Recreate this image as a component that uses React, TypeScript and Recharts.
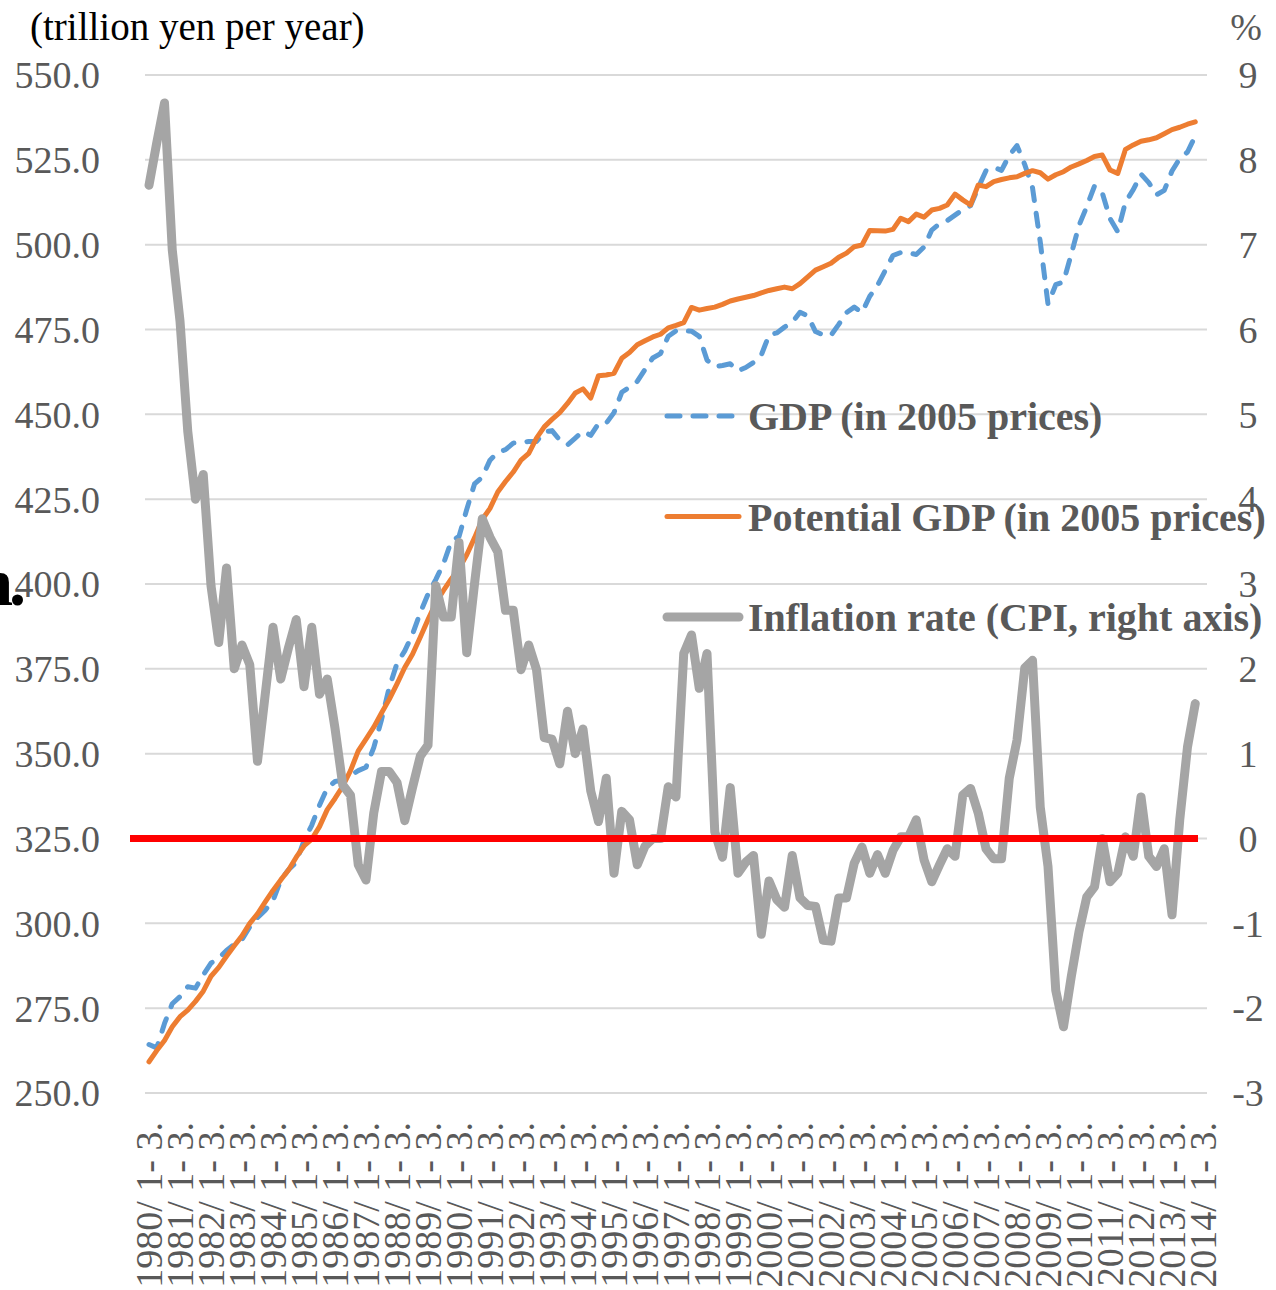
import React from 'react';
import { LineChart, Line, XAxis, YAxis, CartesianGrid, ReferenceLine, Legend } from 'recharts';

const SERIF = "'Liberation Serif', 'Times New Roman', Times, serif";

const years = [
  1980, 1981, 1982, 1983, 1984, 1985, 1986, 1987, 1988, 1989,
  1990, 1991, 1992, 1993, 1994, 1995, 1996, 1997, 1998, 1999,
  2000, 2001, 2002, 2003, 2004, 2005, 2006, 2007, 2008, 2009,
  2010, 2011, 2012, 2013, 2014,
];
const quarterLabels = ['1- 3.', '4- 6.', '7- 9.', '10-12.'];
// 1980/1-3 .. 2014/1-3 (137 quarters)
const categories = years.flatMap((y) => quarterLabels.map((q) => `${y}/ ${q}`)).slice(0, 137);

// GDP (in 2005 prices), trillion yen per year
const gdp = [
  264.3, 263.3, 270.5, 276.3, 278.4, 281.3, 280.9, 284.8, 288.3, 289.7,
  292.0, 293.8, 295.2, 299.0, 301.7, 303.9, 306.7, 312.7, 315.8, 318.0,
  324.4, 328.9, 334.8, 339.9, 341.8, 342.2, 343.6, 345.0, 346.0, 351.8,
  360.0, 369.5, 376.6, 380.3, 385.2, 391.5, 397.0, 401.3, 406.0, 412.6,
  414.0, 422.0, 429.5, 431.5, 436.5, 438.8, 439.6, 441.5, 441.8, 442.0,
  442.0, 444.8, 445.2, 442.4, 441.0, 443.0, 445.0, 443.8, 447.3, 447.4,
  450.5, 456.5, 458.0, 459.7, 463.2, 466.6, 467.9, 473.0, 474.6, 474.6,
  474.5, 473.0, 466.0, 464.0, 464.4, 464.9, 462.8, 463.8, 465.3, 467.4,
  473.4, 474.0, 475.7, 477.1, 480.1, 479.0, 474.4, 473.4, 473.3, 476.5,
  480.0, 481.6, 480.0, 484.8, 488.0, 492.4, 496.8, 497.7, 497.6, 497.1,
  499.3, 504.3, 506.2, 507.1, 508.7, 510.3, 511.5, 516.8, 521.8, 522.8,
  521.9, 526.3, 529.2, 523.6, 516.8, 500.8, 482.5, 488.2, 489.0, 497.2,
  505.7, 511.2, 517.3, 515.3, 507.7, 503.8, 512.6, 516.2, 520.8, 518.3,
  514.7, 516.0, 521.7, 525.4, 527.3, 532.0,
];

// Potential GDP (in 2005 prices), trillion yen per year
const potentialGdp = [
  259.2, 262.5, 265.5, 269.5, 272.5, 274.4, 277.0, 280.0, 284.4, 287.0,
  290.3, 293.4, 296.3, 300.0, 302.8, 306.3, 309.7, 312.8, 315.7, 319.5,
  322.8, 324.8, 328.5, 333.5, 336.8, 340.4, 345.0, 350.8, 354.3, 357.8,
  362.0, 366.0, 370.6, 375.4, 379.3, 384.3, 389.5, 394.4, 398.1, 401.5,
  404.5, 408.6, 413.6, 419.0, 422.3, 427.1, 430.2, 433.0, 436.5, 438.5,
  443.0, 446.3, 448.5, 450.5, 453.2, 456.3, 457.5, 454.8, 461.4, 461.6,
  462.1, 466.5, 468.2, 470.5, 471.7, 472.8, 473.6, 475.5, 476.2, 477.0,
  481.5, 480.7, 481.2, 481.6, 482.4, 483.4, 484.0, 484.5, 485.0, 485.8,
  486.5, 487.0, 487.5, 487.0, 488.5, 490.5, 492.5, 493.5, 494.5, 496.3,
  497.5, 499.4, 499.9, 504.2, 504.1, 504.0, 504.5, 507.8, 506.8, 509.0,
  508.1, 510.2, 510.7, 511.7, 514.9, 513.2, 511.7, 517.6, 517.1, 518.6,
  519.2, 519.7, 520.0, 521.0, 521.8, 521.2, 519.3, 520.6, 521.5, 522.9,
  523.8, 524.8, 526.0, 526.4, 522.0, 521.0, 528.1, 529.4, 530.5, 530.9,
  531.5, 532.7, 533.9, 534.6, 535.5, 536.2,
];

// Inflation rate (CPI, %, right axis)
const inflation = [
  7.70, 8.20, 8.67, 6.94, 6.10, 4.80, 4.00, 4.29, 2.98, 2.31,
  3.19, 2.00, 2.28, 2.05, 0.91, 1.70, 2.49, 1.88, 2.25, 2.58,
  1.79, 2.49, 1.70, 1.88, 1.30, 0.63, 0.51, -0.31, -0.49, 0.30,
  0.79, 0.79, 0.66, 0.21, 0.60, 0.97, 1.10, 2.98, 2.61, 2.61,
  3.49, 2.19, 3.00, 3.77, 3.55, 3.38, 2.69, 2.69, 1.99, 2.28,
  1.99, 1.19, 1.17, 0.88, 1.50, 1.00, 1.29, 0.56, 0.20, 0.71,
  -0.41, 0.32, 0.22, -0.31, -0.09, 0.00, 0.00, 0.61, 0.49, 2.18,
  2.40, 1.77, 2.18, 0.08, -0.22, 0.60, -0.41, -0.28, -0.20, -1.13,
  -0.50, -0.72, -0.81, -0.20, -0.70, -0.79, -0.80, -1.20, -1.21, -0.70,
  -0.70, -0.29, -0.10, -0.41, -0.19, -0.41, -0.14, 0.02, 0.02, 0.22,
  -0.25, -0.51, -0.31, -0.12, -0.21, 0.51, 0.59, 0.30, -0.12, -0.24,
  -0.24, 0.71, 1.16, 2.01, 2.10, 0.37, -0.33, -1.79, -2.22, -1.63,
  -1.10, -0.69, -0.57, 0.00, -0.51, -0.41, 0.02, -0.21, 0.49, -0.21,
  -0.33, -0.12, -0.90, 0.22, 1.08, 1.59,
];

const leftTicks = [250, 275, 300, 325, 350, 375, 400, 425, 450, 475, 500, 525, 550];
const rightTicks = [-3, -2, -1, 0, 1, 2, 3, 4, 5, 6, 7, 8, 9];

const SERIES = [
  { key: 'gdp', name: 'GDP (in 2005 prices)', color: '#5B9BD5', width: 5, dash: '13 13' },
  { key: 'potential', name: 'Potential GDP (in 2005 prices)', color: '#ED7D31', width: 5, dash: undefined },
  { key: 'inflation', name: 'Inflation rate (CPI, right axis)', color: '#A5A5A5', width: 9, dash: undefined },
];

const data = categories.map((q, i) => ({
  q,
  gdp: gdp[i] ?? null,
  potential: potentialGdp[i] ?? null,
  inflation: inflation[i] ?? null,
}));

const XTick = (props: any) => {
  const { x, y, payload } = props;
  return (
    <text
      x={x}
      y={y}
      transform={`rotate(-90 ${x} ${y})`}
      textAnchor="end"
      dy="0.35em"
      fontSize={38}
      fill="#595959"
      fontFamily={SERIF}
    >
      {payload.value}
    </text>
  );
};

const RightTick = (props: any) => {
  const { x, y, payload } = props;
  return (
    <text x={x} y={y} dy="0.35em" textAnchor="middle" fontSize={38} fill="#595959" fontFamily={SERIF}>
      {payload.value}
    </text>
  );
};

const LegendContent = (props: any) => {
  const payload: any[] = props.payload || [];
  const items = SERIES.filter((s) => payload.some((p) => p.dataKey === s.key));
  return (
    <svg width={626} height={270} style={{ display: 'block', overflow: 'visible' }}>
      {items.map((s, i) => {
        const cy = 36 + i * 100.5;
        return (
          <g key={s.key}>
            <line
              x1={17}
              x2={89}
              y1={cy}
              y2={cy}
              stroke={s.color}
              strokeWidth={s.width}
              strokeDasharray={s.dash}
              strokeLinecap="round"
            />
            <text x={98} y={cy + 14} fontSize={40} fontWeight="bold" fill="#595959" fontFamily={SERIF}>
              {s.name}
            </text>
          </g>
        );
      })}
    </svg>
  );
};

const ZeroLine = (p: any) => {
  const left = Math.min(p.x1, p.x2);
  const right = Math.max(p.x1, p.x2);
  return <line x1={left - 15} y1={p.y1} x2={right - 9} y2={p.y2} stroke="#FF0000" strokeWidth={7} />;
};

export default function App() {
  return (
    <div
      style={{
        position: 'absolute',
        left: 0,
        top: 0,
        width: 1276,
        height: 1290,
        overflow: 'hidden',
        background: '#fff',
      }}
    >
      <LineChart width={1276} height={1290} data={data} margin={{ top: 75, right: 10, bottom: 7, left: 10 }}>
        <CartesianGrid yAxisId="left" vertical={false} stroke="#D9D9D9" strokeWidth={2} />
        <XAxis
          dataKey="q"
          interval={3}
          tickLine={false}
          axisLine={false}
          tickSize={0}
          tickMargin={29}
          height={190}
          padding={{ left: 4, right: 4 }}
          tick={XTick}
        />
        <YAxis
          yAxisId="left"
          domain={[250, 550]}
          ticks={leftTicks}
          tickFormatter={(v: number) => v.toFixed(1)}
          width={135}
          axisLine={false}
          tickLine={false}
          tickSize={0}
          tickMargin={45}
          tick={{ fontSize: 38, fill: '#595959', fontFamily: SERIF }}
          allowDataOverflow
        />
        <YAxis
          yAxisId="right"
          orientation="right"
          domain={[-3, 9]}
          ticks={rightTicks}
          width={59}
          axisLine={false}
          tickLine={false}
          tickSize={0}
          tickMargin={41}
          tick={RightTick}
          allowDataOverflow
        />
        <Legend
          layout="vertical"
          align="center"
          verticalAlign="middle"
          wrapperStyle={{ left: 650, top: 380, width: 626, height: 270 }}
          content={LegendContent}
        />
        <Line
          yAxisId="left"
          type="linear"
          dataKey="gdp"
          name={SERIES[0].name}
          stroke={SERIES[0].color}
          strokeWidth={SERIES[0].width}
          strokeDasharray={SERIES[0].dash}
          strokeLinecap="round"
          strokeLinejoin="round"
          dot={false}
          activeDot={false}
          isAnimationActive={false}
        />
        <Line
          yAxisId="left"
          type="linear"
          dataKey="potential"
          name={SERIES[1].name}
          stroke={SERIES[1].color}
          strokeWidth={SERIES[1].width}
          strokeLinecap="round"
          strokeLinejoin="round"
          dot={false}
          activeDot={false}
          isAnimationActive={false}
        />
        <Line
          yAxisId="right"
          type="linear"
          dataKey="inflation"
          name={SERIES[2].name}
          stroke={SERIES[2].color}
          strokeWidth={SERIES[2].width}
          strokeLinecap="round"
          strokeLinejoin="round"
          dot={false}
          activeDot={false}
          isAnimationActive={false}
        />
        <ReferenceLine yAxisId="right" y={0} stroke="#FF0000" strokeWidth={7} shape={ZeroLine} />
      </LineChart>
      <svg
        width={1276}
        height={1290}
        style={{ position: 'absolute', left: 0, top: 0, pointerEvents: 'none' }}
      >
        <text x={30} y={40} fontSize={39} fill="#000" fontFamily={SERIF}>
          (trillion yen per year)
        </text>
        <text x={1246} y={40} textAnchor="middle" fontSize={38} fill="#595959" fontFamily={SERIF}>
          %
        </text>
        <text
          x={22}
          y={605}
          textAnchor="end"
          fontSize={68}
          fontWeight="bold"
          fill="#000"
          fontFamily={SERIF}
          letterSpacing={-4}
        >
          n.
        </text>
      </svg>
    </div>
  );
}
